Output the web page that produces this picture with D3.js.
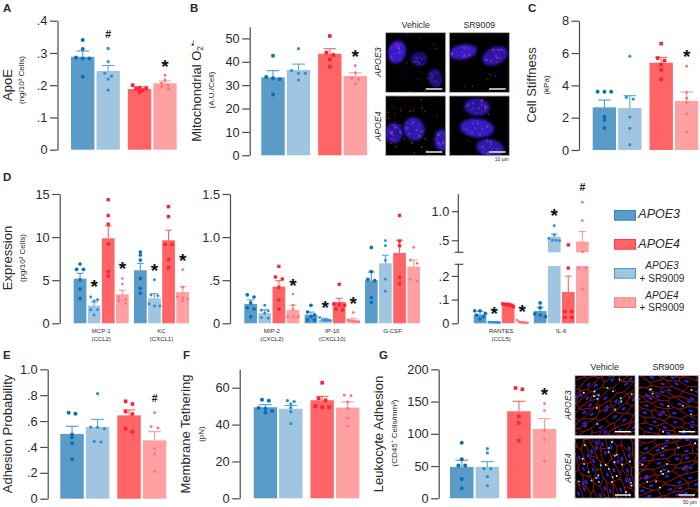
<!DOCTYPE html>
<html><head><meta charset="utf-8">
<script src="https://cdnjs.cloudflare.com/ajax/libs/d3/7.8.5/d3.min.js"></script>
<style>
html,body{margin:0;padding:0;background:#fff}
svg{display:block}
text{font-family:"Liberation Sans",Arial,sans-serif;fill:#2a2a2a}
</style></head><body>
<svg id="fig" width="700" height="507" viewBox="0 0 700 507"></svg>
<script>
// ---------- conditions ----------
const genotypes = ["APOE3","APOE4"];
const treatments = ["Vehicle","SR9009"];
const barColors = ["#5b9bc8","#a0c5e0","#ff6467","#ffa0a3"];
const dotColors = ["#0a6fc1","#2b8fdc","#ff2030","#ff7078"];
const errColors = ["#4a9bd4","#5aa6dc","#ff6468","#ff9a9c"];

// ---------- A: ApoE ----------
const apoeTicks = [0,.1,.2,.3,.4];
const apoeMeans = [.288,.244,.188,.206];
const apoeSems  = [.018,.017,.007,.007];
const apoePoints = [[.34,.312,.286,.283,.283,.226],[.314,.273,.237,.228,.219,.185],[.2,.192,.191,.189,.185,.179],[.231,.216,.206,.2,.195,.189]];
const apoeMarks = [[1,.356,"#"],[3,.272,"*"]];
// ---------- B: Mitochondrial superoxide ----------
const mitoTicks = [0,10,20,30,40,50];
const mitoMeans = [33.3,36.5,43.4,33.9];
const mitoSems  = [2.9,2.5,2.2,1.4];
const mitoPoints = [[42.6,33.5,33,32.5,26],[45.6,36.2,35,35,32.2],[51,43.9,42.9,41,37.9],[38.3,35.3,32.9,32.5,30.4]];
const mitoMarks = [[3,44.1,"*"]];
// ---------- C: Cell stiffness ----------
const stiffTicks = [0,2,4,6,8];
const stiffMeans = [2.64,2.6,5.4,3.03];
const stiffSems  = [.45,.76,.33,.56];
const stiffPoints = [[3.6,3.6,3.6,2.06,1.86,1.36],[5.8,3.26,3.15,2.04,1.34,.33],[6.58,5.69,5.53,5.28,4.95,4.37],[5.18,3.55,3.2,2.93,2.25,1.09]];
const stiffMarks = [[3,6.06,"*"]];
// ---------- D: Cytokine expression ----------
const exprTicks1 = [0,5,10,15];
const exprCyt1 = ["MCP-1","KC"];
const exprSub1 = ["(CCL2)","(CXCL1)"];
const exprMeans1 = [[5.18,2.05,9.86,3.36],[6.15,2.9,9.63,3.63]];
const exprSems1  = [[.62,.42,1.44,.47],[.81,.54,1.17,.62]];
const exprPoints1 = [
 [[6.88,6.26,6.26,5.03,3.98,2.9],[3.05,2.74,2.6,1.58,1.58,.97],[14.34,12.5,11.5,9.2,6,5.5],[5.2,4.56,2.98,2.78,2.6,2.3]],
 [[8.27,7.92,7.34,5.2,4.06,3.5],[5.06,3.29,3.2,2.24,2,2],[13.53,12.37,9.16,9.16,7.42,6.46],[6.22,4.17,3.09,2.94,2.78,2.63]]];
const exprMarks1 = [[0,1,4.76,"*"],[0,3,6.88,"*"],[1,1,6.68,"*"],[1,3,7.81,"*"]];

const exprTicks2 = [0,.5,1,1.5];
const exprCyt2 = ["MIP-2","IP-10","G-CSF"];
const exprSub2 = ["(CXCL2)","(CXCL10)",""];
const exprMeans2 = [[.224,.116,.425,.155],[.1,.039,.247,.043],[.499,.696,.816,.657]];
const exprSems2  = [[.046,.042,.07,.058],[.03,.019,.043,.015],[.096,.093,.147,.077]];
const exprPoints2 = [
 [[.33,.305,.236,.18,.166,.077],[.209,.151,.143,.116,.066,.058],[.66,.537,.514,.417,.27,.166],[.34,.209,.166,.077,.077,.077]],
 [[.209,.131,.097,.077,.039,.039],[.066,.037,.035,.035,.033,.03],[.452,.224,.216,.209,.166,.155],[.124,.039,.031,.023,.019,.015]],
 [[.88,.6,.51,.495,.298,.244],[.959,.9,.73,.51,.371],[1.252,.955,.9,.53,.46],[.88,.73,.696,.51,.487]]];
const exprMarks2 = [[0,3,.49,"*"],[1,1,.235,"*"],[1,3,.282,"*"]];

const exprTicks3 = [0,.1,.2,.5,1];
const exprTickLabels3 = ["0",".1",".2",".5","1.0"];
const exprCyt3 = ["RANTES","IL-6"];
const exprSub3 = ["(CCL5)",""];
const exprMeans3 = [[.037,.005,.083,.004],[.052,.56,.132,.476]];
const exprSems3  = [[.013,.002,.002,.003],[.014,.048,.067,.174]];
const exprPoints3 = [
 [[.053,.053,.042,.035,.028,.018],[.005,.004,.004,.004,.003,.003],[.082,.08,.079,.078,.075,.07],[.014,.007,.004,.003,.002,.002]],
 [[.086,.066,.04,.035,.028],[.75,.59,.53,.5,.5,.49],[.42,.233,.05,.05,.025,.025],[1.155,.838,.3,.233,.233,.145]]];
const exprMarks3 = [[0,1,.0605,"*"],[0,3,.066,"*"],[1,1,.993,"*"],[1,3,1.4,"#"]];
// ---------- E: Adhesion probability ----------
const adhTicks = [0,.2,.4,.6,.8,1];
const adhLabels = ["0",".2",".4",".6",".8","1.0"];
const adhMeans = [.5,.554,.644,.451];
const adhSems  = [.06,.059,.042,.067];
const adhPoints = [[.665,.657,.497,.472,.428,.304],[.812,.554,.552,.541,.443,.438],[.753,.732,.673,.655,.541,.518],[.665,.557,.546,.387,.345,.211]];
const adhMarks = [[3,.776,"#"]];
// ---------- F: Membrane tethering ----------
const tetherTicks = [0,20,40,60];
const tetherMeans = [49.4,48.6,53.2,49.2];
const tetherSems  = [1.4,1.8,2.1,3.1];
const tetherPoints = [[53.5,53,49,48.6,47.4,46.5],[53,52.5,51.2,49.2,47,40.5],[62.7,54.2,53.2,50,49.5,49.4],[56,55.7,52.3,48.8,43.4,39.2]];
// ---------- G: Leukocyte adhesion ----------
const leukoTicks = [0,50,100,150,200];
const leukoMeans = [48.6,48.6,134.9,107.5];
const leukoSems  = [10.4,8.2,15.5,16];
const leukoPoints = [[86.3,60.5,51,51,30,15.5],[77,70.3,46,46,33.6,19.6],[171,169,127,116.8,89.4],[146.8,136,105.4,91,57.4]];
const leukoMarks = [[3,168,"*"]];

// ---------- helpers ----------
const svg = d3.select("#fig");
const defs = svg.append("defs");
function txt(x,y,s,o={}){
  const t = svg.append("text").attr("x",x).attr("y",y).text(s)
    .attr("font-size",o.size||12).attr("text-anchor",o.anchor||"middle")
    .attr("dominant-baseline",o.base||"middle");
  if(o.weight) t.attr("font-weight",o.weight);
  if(o.italic) t.attr("font-style","italic");
  if(o.rot) t.attr("transform",`rotate(${o.rot} ${x} ${y})`);
  if(o.fill) t.style("fill",o.fill);
  return t;
}
const letter=(x,y,s)=>txt(x,y,s,{size:11.5,weight:"bold",anchor:"start"});
const TICK=12.8, LAB=13, SUB=8;
const ylabel=(x,y,s,size=LAB)=>txt(x,y,s,{size,rot:-90});

function axis(x,scale,ticks,labels,tl){
  const a = d3.axisLeft(scale).tickValues(ticks).tickSize(tl||7.5).tickSizeOuter(0).tickPadding(2.5)
    .tickFormat((d,i)=>labels?labels[i]:(d+""));
  const g = svg.append("g").attr("transform",`translate(${x},0)`).call(a);
  g.selectAll("path,line").attr("stroke","#4a4a4a").attr("stroke-width",1.2);
  g.selectAll("text").attr("font-size",TICK).attr("font-family",null);
  return g;
}
function swarm(vals,y,width){
  const s=[...vals].sort((a,b)=>b-a), rows=[];
  s.forEach(v=>{const r=rows[rows.length-1];
    if(r && Math.abs(y(r[0])-y(v))<3) r.push(v); else rows.push([v]);});
  const out=[];
  rows.forEach(r=>{const sp=r.length>1?Math.min(6.8,(width-2)/(r.length-1)):0;
    r.forEach((v,i)=>out.push([(i-(r.length-1)/2)*sp,v]));});
  return out;
}
function bars(group,xOf,w,y,means,sems,points,scale=1,breakSeg){
  means.forEach((m,i)=>{
    const x=xOf(i), col=barColors[i];
    if(breakSeg && m>breakSeg[1]){
      group.append("rect").attr("x",x).attr("width",w).attr("y",y(breakSeg[0])).attr("height",y(0)-y(breakSeg[0])).attr("fill",col);
      group.append("rect").attr("x",x).attr("width",w).attr("y",y(m)).attr("height",y(breakSeg[1])-y(m)).attr("fill",col);
    } else {
      group.append("rect").attr("x",x).attr("width",w).attr("y",y(m)).attr("height",y(0)-y(m)).attr("fill",col);
    }
    const cx=x+w/2, cw=w*.27, top=y(m+sems[i]);
    group.append("line").attr("x1",cx).attr("x2",cx).attr("y1",y(m)).attr("y2",top).attr("stroke",errColors[i]).attr("stroke-width",1.1);
    group.append("line").attr("x1",cx-cw).attr("x2",cx+cw).attr("y1",top).attr("y2",top).attr("stroke",errColors[i]).attr("stroke-width",1.1);
    swarm(points[i],y,w).forEach(([dx,v])=>{
      const px=cx+dx, py=y(v);
      if(i===2) group.append("rect").attr("x",px-1.8*scale).attr("y",py-1.8*scale).attr("width",3.6*scale).attr("height",3.6*scale).attr("fill",dotColors[i]);
      else group.append("circle").attr("cx",px).attr("cy",py).attr("r",[2,1.6,0,1.45][i]*scale).attr("fill",dotColors[i]);
    });
  });
}
function sign(x,yv,s){
  if(s==="*") txt(x,yv+10.8,s,{size:19,weight:"bold",base:"auto",fill:"#111"});
  else txt(x,yv+.5,s,{size:10.5,weight:"bold",fill:"#222"});
}
function nested(x0,x1){
  const outer=d3.scaleBand().domain(genotypes).range([x0,x1]).paddingInner(.14);
  const inner=d3.scaleBand().domain(treatments).range([0,outer.bandwidth()]).paddingInner(.08);
  return {w:inner.bandwidth(), xOf:i=>outer(genotypes[i>>1])+inner(treatments[i&1])};
}
function simplePanel(o){
  const y=d3.scaleLinear().domain([0,o.top]).range([o.y0,o.y1]);
  axis(o.ax,y,o.ticks,o.labels);
  const n=nested(o.x0,o.x1), g=svg.append("g");
  bars(g,n.xOf,n.w,y,o.means,o.sems,o.points);
  (o.marks||[]).forEach(([i,v,s])=>sign(n.xOf(i)+n.w/2,y(v),s));
}
function cluster(o){
  const outer=d3.scaleBand().domain(o.names).range([o.x0,o.x1]).paddingInner(.0875);
  const conds=d3.range(4);
  const inner=d3.scaleBand().domain(conds).range([0,outer.bandwidth()]).paddingInner(.1);
  const g=svg.append("g");
  o.names.forEach((nm,k)=>{
    bars(g,i=>outer(nm)+inner(i),inner.bandwidth(),o.y,o.means[k],o.sems[k],o.points[k],.92,o.breakSeg);
    const cx=outer(nm)+outer.bandwidth()/2;
    txt(cx,331,nm,{size:6});
    if(o.subs[k]) txt(cx,339,o.subs[k],{size:6});
  });
  o.marks.forEach(([k,i,v,s])=>sign(outer(o.names[k])+inner(i)+inner.bandwidth()/2,o.y(v),s));
}

// ---------- panel A ----------
letter(3,9,"A");
simplePanel({ax:57.5,y0:149.7,y1:20.7,top:.4,ticks:apoeTicks,labels:["0",".1",".2",".3",".4"],x0:71,x1:176.7,means:apoeMeans,sems:apoeSems,points:apoePoints,marks:apoeMarks});
ylabel(9,85,"ApoE"); ylabel(22,80,"(ng/10³ Cells)",SUB);
// ---------- panel B ----------
letter(190,9,"B");
simplePanel({ax:249.7,y0:155.3,y1:26.7,top:55,ticks:mitoTicks,x0:261.3,x1:367,means:mitoMeans,sems:mitoSems,points:mitoPoints,marks:mitoMarks});
{
  const t=ylabel(198,91,"Mitochondrial O");
  t.append("tspan").attr("dy",3).attr("font-size",8.5).text("2");
  t.append("tspan").attr("dy",-7).attr("font-size",8.5).text("•-");
}
ylabel(212,90,"(A.U./Cell)",SUB);
// ---------- panel C ----------
letter(528,9,"C");
simplePanel({ax:579,y0:150,y1:20.7,top:8,ticks:stiffTicks,x0:592.7,x1:698.3,means:stiffMeans,sems:stiffSems,points:stiffPoints,marks:stiffMarks});
ylabel(533,85,"Cell Stiffness"); ylabel(547,85,"(kPa)",SUB);
// ---------- panel D ----------
letter(3,178,"D");
ylabel(8.5,258,"Expression"); ylabel(22.5,258,"(pg/10³ Cells)",SUB);
{
  const y=d3.scaleLinear().domain([0,15]).range([323.3,194]);
  axis(59.7,y,exprTicks1);
  cluster({names:exprCyt1,subs:exprSub1,x0:73.7,x1:189,y,means:exprMeans1,sems:exprSems1,points:exprPoints1,marks:exprMarks1});
}
{
  const y=d3.scaleLinear().domain([0,1.5]).range([323.3,194]);
  axis(230,y,exprTicks2,["0",".5","1.0","1.5"]);
  cluster({names:exprCyt2,subs:exprSub2,x0:244.3,x1:420,y,means:exprMeans2,sems:exprSems2,points:exprPoints2,marks:exprMarks2});
}
{
  const y=d3.scaleLinear().domain([0,.249,.293,1.29]).range([323.3,264.3,252.3,194.3]);
  const g=axis(458.3,y,exprTicks3,exprTickLabels3,6.5);
  g.select("path.domain").remove();
  [[y(0),y(.249)],[y(.293),y(1.29)]].forEach(([a,b])=>g.append("line").attr("y1",a).attr("y2",b).attr("stroke","#4a4a4a").attr("stroke-width",1.2));
  [y(.249),y(.293)].forEach(v=>g.append("line").attr("x1",-3.5).attr("x2",5).attr("y1",v).attr("y2",v).attr("stroke","#4a4a4a").attr("stroke-width",1.2));
  cluster({names:exprCyt3,subs:exprSub3,x0:473.7,x1:588.7,y,means:exprMeans3,sems:exprSems3,points:exprPoints3,marks:exprMarks3,breakSeg:[.242,.293]});
}
// ---------- legend ----------
const legendFill=["#5b9bc8","#ff6467","#a0c5e0","#ffa0a3"];
const legendStroke=["#2a86cc","#ff3a48","#4a9bd4","#ff7a80"];
[210.5,239.5,268.5,297.8].forEach((yy,i)=>svg.append("rect").attr("x",614.5).attr("y",yy).attr("width",21).attr("height",9.7).attr("fill",legendFill[i]).attr("stroke",legendStroke[i]).attr("stroke-width",1));
txt(638.3,214.5,"APOE3",{size:12.5,italic:true,anchor:"start"});
txt(638.3,244.5,"APOE4",{size:12.5,italic:true,anchor:"start"});
txt(662,266.5,"APOE3",{size:10,italic:true}); txt(662,279.5,"+ SR9009",{size:10});
txt(662,296,"APOE4",{size:10,italic:true}); txt(662,308,"+ SR9009",{size:10});
// ---------- panel E ----------
letter(3,356,"E");
simplePanel({ax:47.7,y0:498.7,y1:369.3,top:1,ticks:adhTicks,labels:adhLabels,x0:60.3,x1:166.3,means:adhMeans,sems:adhSems,points:adhPoints,marks:adhMarks});
ylabel(9,434,"Adhesion Probability");
// ---------- panel F ----------
letter(183,356,"F");
simplePanel({ax:239.7,y0:498.3,y1:369.3,top:70,ticks:tetherTicks,x0:253.7,x1:359.3,means:tetherMeans,sems:tetherSems,points:tetherPoints});
ylabel(187,434,"Membrane Tethering"); ylabel(201.7,434,"(pN)",SUB);
// ---------- panel G ----------
letter(379,356,"G");
simplePanel({ax:438.7,y0:498.3,y1:369.3,top:200,ticks:leukoTicks,x0:450,x1:556.3,means:leukoMeans,sems:leukoSems,points:leukoPoints,marks:leukoMarks});
ylabel(380,434,"Leukocyte Adhesion"); ylabel(395,433,"(CD45⁺ Cells/mm²)",SUB);

// ---------- micrograph insets (illustrative texture, not data) ----------
const blur1=defs.append("filter").attr("id","bl").attr("x","-30%").attr("y","-30%").attr("width","160%").attr("height","160%");
blur1.append("feGaussianBlur").attr("stdDeviation",.9);
const soft=defs.append("filter").attr("id","sf");
soft.append("feGaussianBlur").attr("stdDeviation",.3);
const hash=i=>{const s=Math.sin(i*12.9898+4.1)*43758.5453;return s-Math.floor(s);};
let clipN=0;
function frame(x,y,w,h){
  const id="c"+(clipN++);
  defs.append("clipPath").attr("id",id).append("rect").attr("x",x).attr("y",y).attr("width",w).attr("height",h);
  const g=svg.append("g").attr("clip-path",`url(#${id})`);
  g.append("rect").attr("x",x).attr("y",y).attr("width",w).attr("height",h).attr("fill","#000");
  return g;
}
function border(x,y,w,h){svg.append("rect").attr("x",x).attr("y",y).attr("width",w).attr("height",h).attr("fill","none").attr("stroke","#9a9a9a").attr("stroke-width",.8);}
function scaleBar(x1,x2,y){svg.append("line").attr("x1",x1).attr("x2",x2).attr("y1",y).attr("y2",y).attr("stroke","#fff").attr("stroke-width",1.4);}

// B insets: [cx,cy,rx,ry,angle,brightness]
const nucB=[
 [[397,52,9,11.5,15,.9],[419,59,8.5,7.5,0,.3],[435,78,7,9.5,-10,.4]],
 [[463,52,14,7.5,-10,.8],[495,56,13.5,9,-25,.65]],
 [[394,133,9,10.5,0,.6],[414,129,10.5,12,-20,.7],[442,140,8,11,0,.7]],
 [[477,107,13,9,5,.6],[477,128,17,9.5,5,.85],[490,148,14,9,10,.7]]];
const boxB=[[385.7,32.7],[449.3,32.7],[385.7,96],[449.3,96]];
const speckCount=[24,14,46,12];
boxB.forEach(([bx,by],k)=>{
  const g=frame(bx,by,60,59.6);
  for(let s=0;s<speckCount[k];s++){
    g.append("circle").attr("cx",bx+hash(k*100+s)*60).attr("cy",by+hash(k*100+s+57)*59.6)
     .attr("r",.35+hash(k*70+s)*.5).attr("fill",k===2?"#e8202a":"#a81820");
  }
  nucB[k].forEach(([cx,cy,rx,ry,a,b],n)=>{
    const ng=g.append("g").attr("transform",`rotate(${a} ${cx} ${cy})`);
    ng.append("ellipse").attr("cx",cx).attr("cy",cy).attr("rx",rx).attr("ry",ry).attr("fill",d3.interpolateRgb("#0b0640","#3a22d8")(Math.min(1,b))).attr("filter","url(#bl)");
    for(let s=0;s<14;s++){
      const ang=hash(k*31+n*13+s)*6.28, rr=Math.sqrt(hash(k*17+n*7+s+40))*.8;
      ng.append("circle").attr("cx",cx+Math.cos(ang)*rx*rr).attr("cy",cy+Math.sin(ang)*ry*rr)
        .attr("r",.5+hash(s+k+n)*.9).attr("fill",b>.5?"#b030e0":"#5a28a0").attr("opacity",.65).attr("filter","url(#sf)");
    }
  });
  border(bx,by,60,59.6);
});
txt(415.7,25.7,"Vehicle",{size:8.8}); txt(479.3,25.7,"SR9009",{size:8.8});
txt(379,62,"APOE3",{size:8.8,italic:true,rot:-90}); txt(379,126,"APOE4",{size:8.8,italic:true,rot:-90});
scaleBar(425.7,442.3,89); scaleBar(489,505.7,89); scaleBar(425.7,442.3,152); scaleBar(489,505.7,152);
txt(501.7,160,"10 µm",{size:5});

// G insets: endothelial network drawn as a stretched Voronoi mesh
const boxG=[[575,375.7],[638.3,375.7],[575,438.3],[638.3,438.3]];
const dotsG=[14,9,26,11];
const tiltG=[-35,15,70,-15];
boxG.forEach(([bx,by],k)=>{
  const outer=frame(bx,by,60,59.8), pts=[];
  const g=outer.append("g").attr("filter","url(#sf)");
  for(let r=-8;r<=8;r++)for(let c=-4;c<=4;c++){
    const id=k*400+(r+8)*10+(c+4);
    pts.push([c+(r&1?.5:0)+(hash(id)-.5)*.85,r+(hash(id+77)-.5)*.85]);
  }
  const vor=d3.Delaunay.from(pts).voronoi([-6,-10,6,10]);
  const mesh=g.append("g").attr("transform",`translate(${bx+30},${by+30}) rotate(${tiltG[k]}) scale(17,7)`);
  pts.forEach(([px,py])=>mesh.append("ellipse").attr("cx",px).attr("cy",py).attr("rx",.14).attr("ry",.17).attr("fill","#2626d8"));
  mesh.append("path").attr("d",vor.render()).attr("fill","none").attr("stroke","#d8142a").attr("stroke-width",.7).attr("vector-effect","non-scaling-stroke");
  for(let s=0;s<dotsG[k];s++){
    g.append("circle").attr("cx",bx+3+hash(k*41+s)*54).attr("cy",by+3+hash(k*43+s+11)*54).attr("r",1)
      .attr("fill",hash(s+k*3)>.35?"#70f0d8":"#e8f4f0");
  }
  border(bx,by,60,59.8);
});
txt(604.7,368,"Vehicle",{size:8.8}); txt(668.3,368,"SR9009",{size:8.8});
txt(568.3,405,"APOE3",{size:8.8,italic:true,rot:-90}); txt(568.3,468,"APOE4",{size:8.8,italic:true,rot:-90});
scaleBar(615,631,431.7); scaleBar(678.7,695,431.7); scaleBar(615,631,495); scaleBar(678.7,695,495);
txt(690,503,"50 µm",{size:5});
</script>
</body></html>
